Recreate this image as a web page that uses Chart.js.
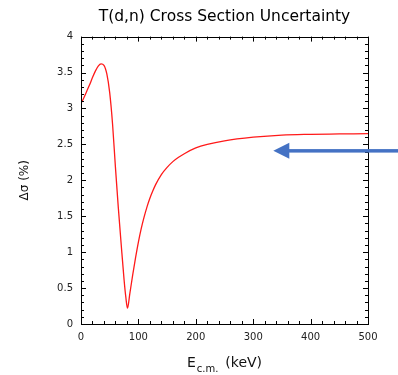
<!DOCTYPE html>
<html lang="en">
<head>
    <meta charset="UTF-8">
    <title>T(d,n) Cross Section Uncertainty</title>
    <script src="https://cdn.jsdelivr.net/npm/chart.js"></script>
    <style>
        html, body { margin: 0; padding: 0; background: #fff; }
        .graph { width: 398px; height: 375px; }
    </style>
</head>
<body>
    <div class="graph">
        <canvas id="myChart"></canvas>
    </div>

<script>
// valores (energia em keV, incerteza em %)
const energia = [0, 5, 10, 15, 20, 25, 30, 35, 40, 45, 50, 55, 60, 65, 70, 75, 78, 81,
    85, 90, 95, 100, 105, 110, 115, 120, 125, 130, 140, 150, 160, 170, 180, 200, 220, 250, 300, 350, 400, 450, 500];
const incerteza = [3.07, 3.15, 3.24, 3.33, 3.43, 3.52, 3.59, 3.62, 3.60, 3.48, 3.22, 2.78, 2.18, 1.62, 1.11, 0.62, 0.38, 0.22,
    0.42, 0.68, 0.92, 1.14, 1.33, 1.49, 1.63, 1.75, 1.85, 1.94, 2.08, 2.18, 2.26, 2.32, 2.37, 2.45, 2.50, 2.55, 2.60, 2.63, 2.64, 2.645, 2.65];

const xTicks = [0, 100, 200, 300, 400, 500];
const yTicks = [0, 0.5, 1, 1.5, 2, 2.5, 3, 3.5, 4];

// ponta da seta azul (em coordenadas dos dados)
const setaPonta = { x: 335, y: 2.41 };

const fonte = 'DejaVu Sans, sans-serif';

// moldura e ticks para dentro, nos quatro lados
const moldura = {
    id: 'moldura',
    afterDraw(chart) {
        const ctx = chart.ctx;
        const a = chart.chartArea;
        const xs = chart.scales.x, ys = chart.scales.y;
        ctx.save();
        ctx.strokeStyle = '#000';
        ctx.lineWidth = 1;
        ctx.strokeRect(Math.round(a.left) + 0.5, Math.round(a.top) + 0.5,
            Math.round(a.right - a.left), Math.round(a.bottom - a.top));
        ctx.beginPath();
        for (let v = 0; v <= 500; v += 20) {
            const px = Math.round(xs.getPixelForValue(v)) + 0.5;
            const len = (v % 100 === 0) ? 5 : 3;
            ctx.moveTo(px, a.bottom); ctx.lineTo(px, a.bottom - len);
            ctx.moveTo(px, a.top); ctx.lineTo(px, a.top + len);
        }
        for (let i = 0; i <= 40; i++) {
            const py = Math.round(ys.getPixelForValue(i / 10)) + 0.5;
            const len = (i % 5 === 0) ? 5 : 3;
            ctx.moveTo(a.left, py); ctx.lineTo(a.left + len, py);
            ctx.moveTo(a.right, py); ctx.lineTo(a.right - len, py);
        }
        ctx.stroke();
        ctx.restore();
    }
};

// seta azul apontando para a assintota
const seta = {
    id: 'seta',
    afterDraw(chart) {
        const ctx = chart.ctx;
        const tx = chart.scales.x.getPixelForValue(setaPonta.x);
        const ty = chart.scales.y.getPixelForValue(setaPonta.y);
        ctx.save();
        ctx.fillStyle = '#4472c4';
        ctx.fillRect(tx + 14, ty - 1.75, chart.width - tx - 14, 3.5);
        ctx.beginPath();
        ctx.moveTo(tx, ty);
        ctx.lineTo(tx + 16, ty - 8);
        ctx.lineTo(tx + 16, ty + 8);
        ctx.closePath();
        ctx.fill();
        ctx.restore();
    }
};

// titulo do eixo x com subscrito
const tituloX = {
    id: 'tituloX',
    afterDraw(chart) {
        const ctx = chart.ctx;
        const a = chart.chartArea;
        const base = 367;
        ctx.save();
        ctx.fillStyle = '#111';
        ctx.textBaseline = 'alphabetic';
        ctx.font = '14px ' + fonte;
        const wE = ctx.measureText('E').width;
        const wK = ctx.measureText('(keV)').width;
        ctx.font = '10px ' + fonte;
        const wS = ctx.measureText('c.m.').width;
        const total = wE + 1 + wS + 7 + wK;
        let x = (a.left + a.right) / 2 - total / 2;
        ctx.font = '14px ' + fonte;
        ctx.fillText('E', x, base);
        x += wE + 1;
        ctx.font = '10px ' + fonte;
        ctx.fillText('c.m.', x, base + 5);
        x += wS + 7;
        ctx.font = '14px ' + fonte;
        ctx.fillText('(keV)', x, base);
        ctx.restore();
    }
};

const ctx = document.getElementById('myChart').getContext('2d');
new Chart(ctx, {
    type: 'line',
    data: {
        datasets: [{
            data: energia.map((e, i) => ({ x: e, y: incerteza[i] })),
            borderColor: '#ff1a1a',
            borderWidth: 1.3,
            pointRadius: 0,
            cubicInterpolationMode: 'monotone',
            fill: false
        }]
    },
    options: {
        responsive: true,
        maintainAspectRatio: false,
        animation: false,
        layout: { padding: { left: 0, right: 30, top: 0, bottom: 0 } },
        plugins: {
            legend: { display: false },
            tooltip: { enabled: false },
            title: {
                display: true,
                fullSize: false,
                text: 'T(d,n) Cross Section Uncertainty',
                color: '#000',
                font: { size: 15.5, family: fonte, weight: 'normal' },
                padding: { top: 8, bottom: 10 }
            }
        },
        scales: {
            x: {
                type: 'linear',
                min: 0,
                max: 500,
                afterFit(scale) { scale.height = 51; },
                afterBuildTicks(scale) { scale.ticks = xTicks.map(v => ({ value: v })); },
                grid: { display: false, drawTicks: false },
                border: { display: false },
                ticks: {
                    color: '#222',
                    padding: 7,
                    maxRotation: 0,
                    font: { size: 10, family: fonte }
                }
            },
            y: {
                min: 0,
                max: 4,
                afterFit(scale) { scale.width = 81; },
                afterBuildTicks(scale) { scale.ticks = yTicks.map(v => ({ value: v })); },
                grid: { display: false, drawTicks: false },
                border: { display: false },
                title: {
                    display: true,
                    text: 'Δσ (%)',
                    color: '#111',
                    font: { size: 12, family: fonte },
                    padding: { top: 18, bottom: 0 }
                },
                ticks: {
                    color: '#222',
                    padding: 8,
                    font: { size: 10, family: fonte },
                    callback: v => String(v)
                }
            }
        }
    },
    plugins: [moldura, seta, tituloX]
});
</script>
</body>
</html>
